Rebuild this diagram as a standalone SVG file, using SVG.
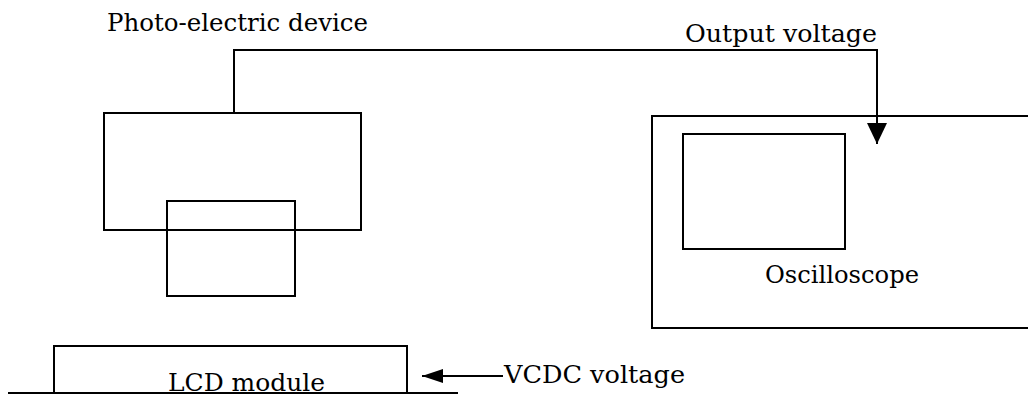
<svg xmlns="http://www.w3.org/2000/svg" width="1028" height="398" viewBox="0 0 1028 398">
  <style>
    .box { fill: none; stroke: #000; stroke-width: 2; }
    .wire { fill: none; stroke: #000; stroke-width: 2; }
    .lbl { font-family: "DejaVu Serif", "Liberation Serif", serif; font-size: 25px; fill: #000; }
  </style>
  <defs>
    <marker id="headBig" markerUnits="userSpaceOnUse" markerWidth="21" markerHeight="20" refX="21" refY="10" orient="auto">
      <path d="M0,0 L21,10 L0,20 z" fill="#000"/>
    </marker>
    <marker id="headSmall" markerUnits="userSpaceOnUse" markerWidth="21" markerHeight="14" refX="21" refY="7" orient="auto">
      <path d="M0,0 L21,7 L0,14 z" fill="#000"/>
    </marker>
  </defs>
  <rect width="1028" height="398" fill="#fff"/>

  <g id="photo-electric-device">
    <rect class="box" x="104" y="113" width="257" height="117"/>
    <rect class="box" x="167" y="201" width="128" height="95"/>
    <text class="lbl" x="107" y="31" textLength="261" lengthAdjust="spacingAndGlyphs">Photo-electric device</text>
  </g>

  <g id="oscilloscope">
    <path class="box" d="M1030,116 H652 V328 H1030"/>
    <rect class="box" x="683" y="134" width="162" height="115"/>
    <text class="lbl" x="765" y="283" textLength="154" lengthAdjust="spacingAndGlyphs">Oscilloscope</text>
  </g>

  <g id="lcd-module">
    <rect class="box" x="54" y="346" width="353" height="47"/>
    <line class="box" x1="8" y1="393" x2="458" y2="393"/>
    <text class="lbl" x="168" y="391" textLength="157" lengthAdjust="spacingAndGlyphs">LCD module</text>
  </g>

  <g id="connectors">
    <path class="wire" d="M234,113 V50 H877 V144" marker-end="url(#headBig)"/>
    <text class="lbl" x="685" y="42" textLength="192" lengthAdjust="spacingAndGlyphs">Output voltage</text>
    <path class="wire" d="M503,376 H422" marker-end="url(#headSmall)"/>
    <text class="lbl" x="504" y="383" textLength="181" lengthAdjust="spacingAndGlyphs">VCDC voltage</text>
  </g>
</svg>
